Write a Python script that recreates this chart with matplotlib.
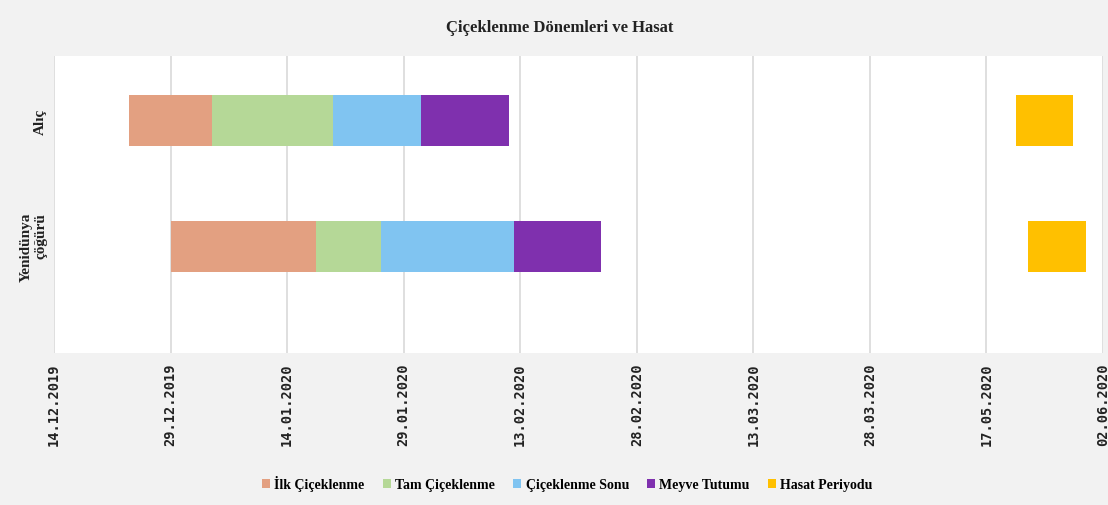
import numpy as np
import matplotlib
matplotlib.use("Agg")
import matplotlib.pyplot as plt

# days counted from 14.12.2019, axis steps of 15 days
kategoriler = ["Alıç", "Yenidünya\nçöğürü"]
baslangic = [9.7, 15.0]
ilk_ciceklenme = [10.6, 18.7]
tam_ciceklenme = [15.6, 8.4]
ciceklenme_sonu = [11.3, 17.1]
meyve_tutumu = [11.3, 11.2]
hasat_baslangic = [123.8, 125.3]
hasat_periyodu = [7.4, 7.5]

tarih_etiketleri = ["14.12.2019", "29.12.2019", "14.01.2020", "29.01.2020",
                    "13.02.2020", "28.02.2020", "13.03.2020", "28.03.2020",
                    "17.05.2020", "02.06.2020"]

seri_adlari = ["İlk Çiçeklenme", "Tam Çiçeklenme", "Çiçeklenme Sonu",
               "Meyve Tutumu", "Hasat Periyodu"]
renkler = ["#E3A081", "#B5D897", "#80C4F1", "#7F30AE", "#FFC000"]

serif = ["Liberation Serif", "DejaVu Serif"]

fig = plt.figure(figsize=(11.08, 5.06), dpi=100, facecolor="#F2F2F2")
ax = fig.add_axes([0.0487, 0.3004, 0.9468, 0.587])
ax.set_facecolor("white")

y = np.arange(len(kategoriler))
h = 0.405
sol = np.array(baslangic, dtype=float)
for ad, deger, renk in zip(seri_adlari[:4],
                           [ilk_ciceklenme, tam_ciceklenme, ciceklenme_sonu, meyve_tutumu],
                           renkler[:4]):
    ax.barh(y, deger, left=sol, height=h, color=renk, label=ad, zorder=3)
    sol = sol + np.array(deger)
ax.barh(y, hasat_periyodu, left=hasat_baslangic, height=h, color=renkler[4],
        label=seri_adlari[4], zorder=3)

ax.set_xlim(0, 15 * (len(tarih_etiketleri) - 1))
ax.set_ylim(1.845, -0.512)
ax.set_xticks(np.arange(len(tarih_etiketleri)) * 15)
ax.set_xticklabels(tarih_etiketleri, rotation=90, fontfamily="DejaVu Sans Mono",
                   fontweight="bold", fontsize=9.8, color="#222222")
ax.set_yticks(y)
ax.set_yticklabels(kategoriler, rotation=90, va="center", ha="right", linespacing=1.1,
                   fontfamily=serif, fontweight="bold", fontsize=11, color="#222222")
ax.tick_params(axis="both", length=0)
ax.tick_params(axis="x", pad=7)
ax.tick_params(axis="y", pad=5)
ax.grid(axis="x", color="#D9D9D9", linewidth=1.2, zorder=0)
for s in ax.spines.values():
    s.set_visible(False)

fig.text(0.505, 0.944, "Çiçeklenme Dönemleri ve Hasat", ha="center", va="center",
         fontfamily=serif, fontweight="bold", fontsize=12, color="#222222")

handles, labels = ax.get_legend_handles_labels()
leg = fig.legend(handles, labels, loc="center", bbox_to_anchor=(0.512, 0.043), ncol=5,
                 frameon=False, handlelength=0.6, handleheight=0.6, handletextpad=0.3,
                 columnspacing=1.3, prop={"family": serif, "weight": "bold", "size": 10})

fig.savefig("out.png", dpi=100, facecolor=fig.get_facecolor())
